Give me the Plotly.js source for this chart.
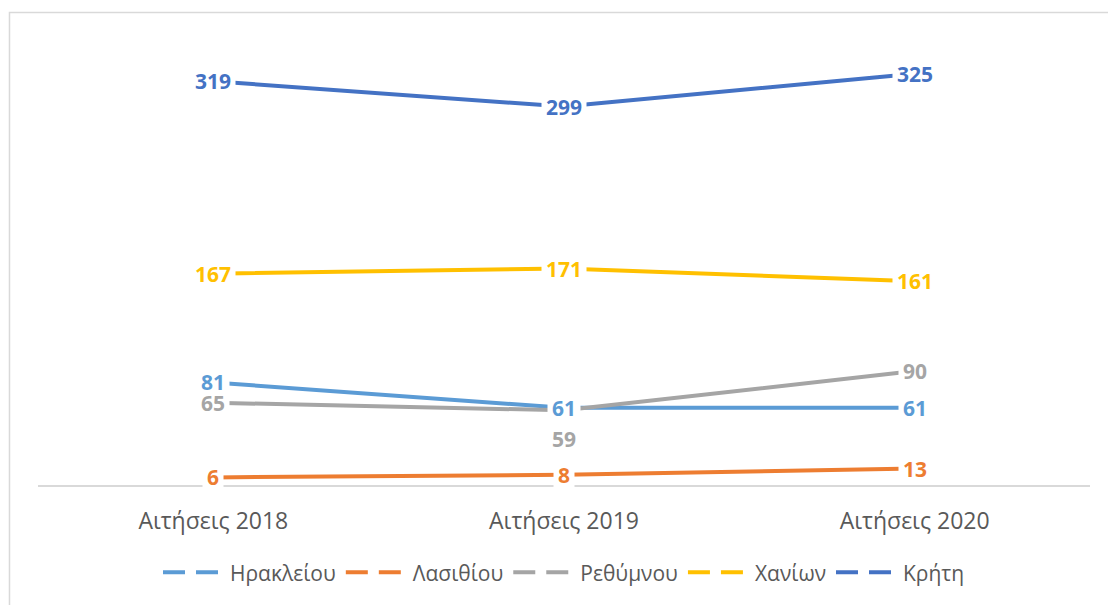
<!DOCTYPE html>
<html>
<head>
<meta charset="utf-8">
<script src="https://cdn.plot.ly/plotly-3.0.1.min.js"></script>
<style>html,body{margin:0;padding:0;background:#fff;}#chart{width:1108px;height:605px;}</style>
</head>
<body>
<div id="chart"></div>
<script>
const categories = ['Αιτήσεις 2018', 'Αιτήσεις 2019', 'Αιτήσεις 2020'];
const seriesNames = ['Ηρακλείου', 'Λασιθίου', 'Ρεθύμνου', 'Χανίων', 'Κρήτη'];
const heraklion = [81, 61, 61];
const lasithi = [6, 8, 13];
const rethymno = [65, 59, 90];
const chania = [167, 171, 161];
const crete = [319, 299, 325];
const colors = ['#5B9BD5', '#ED7D31', '#A5A5A5', '#FFC000', '#4472C4'];
// label vertical offsets (px) per series/point
const labelShift = [[0,0,0],[0,0,0],[0,-29,0],[0,0,0],[0,0,0]];
// order in which labels are stacked (later on top)
const labelOrder = [2, 1, 0, 3, 4];

const values = [heraklion, lasithi, rethymno, chania, crete];
const FONT = 'Open Sans, Noto Sans, sans-serif';

const traces = [];
values.forEach((v, i) => {
  traces.push({
    type: 'scatter', mode: 'lines', x: categories, y: v,
    name: seriesNames[i], showlegend: false,
    line: {color: colors[i], width: 4}, hoverinfo: 'skip'
  });
});
values.forEach((v, i) => {
  traces.push({
    type: 'scatter', mode: 'lines', x: [null], y: [null],
    name: seriesNames[i], showlegend: true,
    line: {color: colors[i], width: 4, dash: '22px,11px'}
  });
});

const annotations = [];
labelOrder.forEach(i => {
  values[i].forEach((val, j) => {
    const txt = String(val);
    annotations.push({
      x: categories[j], y: val, xref: 'x', yref: 'y',
      text: txt, showarrow: false,
      yshift: labelShift[i][j],
      height: 22, width: txt.length * 12 + 4, valign: 'middle', align: 'center',
      bgcolor: '#ffffff', borderpad: 2,
      font: {family: FONT, size: 21, color: colors[i], weight: 'bold'}
    });
  });
});

const layout = {
  width: 1108, height: 605,
  margin: {l: 38, r: 18, t: 42, b: 118},
  paper_bgcolor: '#ffffff', plot_bgcolor: '#ffffff',
  font: {family: FONT, color: '#595959'},
  showlegend: true,
  legend: {
    orientation: 'h', x: 0.5, xanchor: 'center', y: -0.198, yanchor: 'middle',
    font: {family: FONT, size: 21, color: '#595959'},
    itemwidth: 62, tracegroupgap: 0
  },
  xaxis: {
    type: 'category', range: [-0.5, 2.5], fixedrange: true,
    showgrid: false, zeroline: false, showline: true,
    linecolor: '#D9D9D9', linewidth: 1.5, ticks: '',
    ticklabelstandoff: 15,
    tickfont: {family: FONT, size: 23, color: '#595959'}
  },
  yaxis: {
    range: [0, 350], visible: false, showgrid: false, zeroline: false, fixedrange: true
  },
  annotations: annotations,
  shapes: [{
    type: 'rect', xref: 'paper', yref: 'paper',
    x0: -0.0271, x1: 1.05, y0: -0.3, y1: 1.0664,
    line: {color: '#D9D9D9', width: 1.5}, fillcolor: 'rgba(0,0,0,0)', layer: 'below'
  }],
  hovermode: false
};

Plotly.newPlot('chart', traces, layout, {displayModeBar: false, staticPlot: true});
</script>
</body>
</html>
